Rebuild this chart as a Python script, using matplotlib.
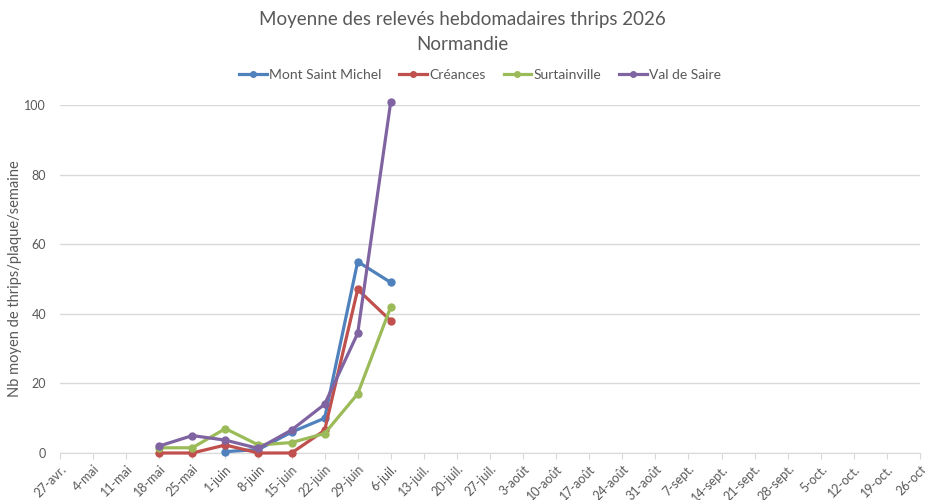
import numpy as np
import matplotlib
matplotlib.use("Agg")
import matplotlib.pyplot as plt

plt.rcParams['font.family'] = ['Lato', 'DejaVu Sans']

weeks = ["27-avr.", "4-mai", "11-mai", "18-mai", "25-mai", "1-juin", "8-juin",
         "15-juin", "22-juin", "29-juin", "6-juil.", "13-juil.", "20-juil.",
         "27-juil.", "3-août", "10-août", "17-août", "24-août", "31-août",
         "7-sept.", "14-sept.", "21-sept.", "28-sept.", "5-oct.", "12-oct.",
         "19-oct.", "26-oct"]

# values start at week index given in start_*
start_msm = 5
mont_saint_michel = [0.4, 1.0, 6.0, 10.0, 55.0, 49.0]
start_cre = 3
creances = [0.0, 0.0, 2.3, 0.0, 0.0, 6.5, 47.0, 38.0]
start_sur = 3
surtainville = [1.5, 1.5, 7.0, 2.3, 3.0, 5.6, 17.0, 42.0]
start_vds = 3
val_de_saire = [2.0, 5.0, 3.7, 1.3, 6.6, 14.0, 34.4, 101.0]

series = [
    ("Mont Saint Michel", start_msm, mont_saint_michel, "#4F81BD"),
    ("Créances", start_cre, creances, "#C0504D"),
    ("Surtainville", start_sur, surtainville, "#9BBB59"),
    ("Val de Saire", start_vds, val_de_saire, "#8064A2"),
]

txt = "#595959"
fig = plt.figure(figsize=(9.25, 5), dpi=100)
ax = fig.add_axes([60/925, 1-453/500, 860/925, 348/500])

for name, start, vals, col in series:
    x = np.arange(start, start + len(vals))
    ax.plot(x, vals, color=col, lw=2.3, marker='o', ms=5, label=name, clip_on=False, zorder=3)

ax.set_xlim(0, 26)
ax.set_ylim(0, 100)
ax.set_yticks(np.arange(0, 101, 20))
ax.set_xticks(np.arange(len(weeks)))
ax.set_xticklabels(weeks, rotation=45, ha='right', rotation_mode='anchor')
ax.grid(axis='y', color='#D9D9D9', lw=1)
ax.set_axisbelow(True)
for s in ['top', 'right', 'left']:
    ax.spines[s].set_visible(False)
ax.spines['bottom'].set_color('#D9D9D9')
ax.tick_params(axis='y', length=0, colors=txt, labelsize=9, pad=10)
ax.tick_params(axis='x', length=4, color='#D9D9D9', colors=txt, labelsize=9, pad=3)
for lab in ax.get_xticklabels():
    lab.set_color(txt)
ax.set_ylabel("Nb moyen de thrips/plaque/semaine", color=txt, fontsize=10.5, labelpad=2)

fig.text(0.5, 1-20/500, "Moyenne des relevés hebdomadaires thrips 2026", ha='center', va='center',
         fontsize=13.5, color=txt)
fig.text(0.5, 1-45/500, "Normandie", ha='center', va='center', fontsize=13.5, color=txt)
fig.legend(loc='center', bbox_to_anchor=(480/925, 1-75/500), ncol=4, frameon=False,
           fontsize=10, labelcolor=txt, handlelength=2.0, handletextpad=0.15, columnspacing=1.3,
           markerscale=0.8)

fig.savefig("out.png", dpi=100)
